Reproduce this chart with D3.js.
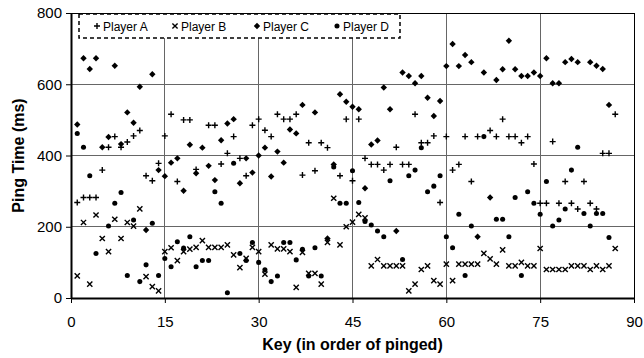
<!DOCTYPE html>
<html><head><meta charset="utf-8">
<script src="https://cdn.jsdelivr.net/npm/d3@7"></script>
<style>body{margin:0;background:#fff}svg{display:block}text{font-family:"Liberation Sans",Arial,sans-serif}</style>
</head><body><svg id="c" width="644" height="358"></svg>
<script>
const seriesNames = ["Player A","Player B","Player C","Player D"];
const keys = d3.range(1, 88);
const playerA = [268,282,282,282,359,423,453,423,438,455,470,343,329,378,455,
516,327,500,500,361,null,485,485,376,406,453,392,343,485,502,
471,453,516,502,502,516,345,436,357,436,422,null,343,502,329,
502,392,375,375,359,375,423,375,375,516,436,436,455,268,453,
359,375,453,327,453,null,470,453,502,453,453,436,453,376,266,
266,439,266,327,266,250,327,266,250,406,406,516];
const playerB = [62,212,39,233,167,130,221,167,212,202,250,60,32,20,130,
141,105,130,137,142,161,142,142,142,149,121,85,111,142,130,
67,149,138,138,130,30,128,69,69,39,156,280,149,200,213,
235,225,90,108,90,90,90,90,20,39,80,90,49,39,95,
49,95,95,95,95,125,110,95,135,90,90,100,90,90,139,
80,80,80,80,90,90,90,80,90,80,90,139];
const playerC = [487,673,643,673,423,452,652,432,521,492,593,191,628,359,342,
380,392,301,430,350,422,371,331,443,490,502,322,392,352,400,
422,341,411,380,473,462,542,null,521,null,167,375,572,551,537,
530,308,431,442,591,530,188,633,623,603,623,562,511,553,651,
713,651,682,662,172,633,282,612,642,722,642,623,623,633,623,
673,603,603,662,671,662,null,662,652,643,542,null];
const playerD = [462,423,343,125,null,202,266,296,63,219,46,93,210,63,111,
88,158,140,172,88,105,105,298,266,15,378,125,105,156,100,
79,46,62,156,156,107,137,62,141,62,null,368,266,266,357,
268,215,205,188,172,329,null,108,343,359,422,298,314,343,172,
141,235,63,202,null,453,null,221,221,172,282,63,298,266,235,
327,202,219,250,359,423,237,202,237,237,170,null];
const xTicks = [0,15,30,45,60,75,90];
const yTicks = [0,200,400,600,800];

const svg = d3.select("#c");
const L=71, R=634, T=13, B=298;
const x = d3.scaleLinear().domain([0,90]).range([L,R]);
const y = d3.scaleLinear().domain([0,800]).range([B,T]);

// gridlines
svg.append("g").selectAll("line").data(yTicks.filter(v=>v>0&&v<800)).join("line")
  .attr("x1",L).attr("x2",R).attr("y1",d=>y(d)).attr("y2",d=>y(d))
  .attr("stroke","#666").attr("stroke-width",1).attr("shape-rendering","crispEdges");
svg.append("g").selectAll("line").data(xTicks.filter(v=>v>0&&v<90)).join("line")
  .attr("y1",T).attr("y2",B).attr("x1",d=>x(d)).attr("x2",d=>x(d))
  .attr("stroke","#666").attr("stroke-width",1).attr("shape-rendering","crispEdges");

// frame
svg.append("rect").attr("x",L).attr("y",T).attr("width",R-L).attr("height",B-T)
  .attr("fill","none").attr("stroke","#000").attr("stroke-width",1).attr("shape-rendering","crispEdges");

// legend
const lg = svg.append("g");
lg.append("rect").attr("x",79).attr("y",14).attr("width",321).attr("height",24)
  .attr("fill","#fff").attr("stroke","#000").attr("stroke-width",1.5).attr("stroke-dasharray","4,3");

const plusPath = "M-3,0H3M0,-3V3";
const xPath = "M-2.6,-2.6L2.6,2.6M-2.6,2.6L2.6,-2.6";
const diamond = "M0,-3.2L3.2,0L0,3.2L-3.2,0Z";
const circle = d3.symbol(d3.symbolCircle).size(20)();
const markers = [
  {d:plusPath, fill:"none", stroke:"#000"},
  {d:xPath, fill:"none", stroke:"#000"},
  {d:diamond, fill:"#000", stroke:"none"},
  {d:circle, fill:"#000", stroke:"none"}
];
const data = [playerA, playerB, playerC, playerD];

const legX = [97,175,257,337];
seriesNames.forEach((n,i)=>{
  lg.append("path").attr("d",markers[i].d).attr("transform",`translate(${legX[i]},26)`)
    .attr("fill",markers[i].fill).attr("stroke",markers[i].stroke).attr("stroke-width",1.4);
  lg.append("text").attr("x",legX[i]+6).attr("y",30.5).attr("font-size",12).text(n);
});

// points
data.forEach((arr,i)=>{
  svg.append("g").selectAll("path").data(keys.map((k,j)=>({k,v:arr[j]})).filter(d=>d.v!=null)).join("path")
    .attr("d",markers[i].d).attr("transform",d=>`translate(${x(d.k)},${y(d.v)})`)
    .attr("fill",markers[i].fill).attr("stroke",markers[i].stroke).attr("stroke-width",1.4);
});

// axes
const ya = svg.append("g").attr("transform",`translate(${L},0)`)
  .call(d3.axisLeft(y).tickValues(yTicks).tickSize(5).tickPadding(4).tickSizeOuter(0));
const xa = svg.append("g").attr("transform",`translate(0,${B})`)
  .call(d3.axisBottom(x).tickValues(xTicks).tickSize(5).tickPadding(13).tickSizeOuter(0));
[ya,xa].forEach(a=>{
  a.select(".domain").attr("stroke","#000").attr("stroke-width",2);
  a.selectAll(".tick line").attr("stroke","#000").attr("stroke-width",1);
  a.selectAll(".tick text").attr("font-size",15).attr("font-family","Liberation Sans, Arial, sans-serif").attr("fill","#000");
});

svg.append("text").attr("x",(L+R)/2).attr("y",350).attr("text-anchor","middle")
  .attr("font-size",16).attr("font-weight","bold").text("Key (in order of pinged)");
svg.append("text").attr("transform",`translate(24,${(T+B)/2}) rotate(-90)`).attr("text-anchor","middle")
  .attr("font-size",16).attr("font-weight","bold").text("Ping Time (ms)");
</script></body></html>
